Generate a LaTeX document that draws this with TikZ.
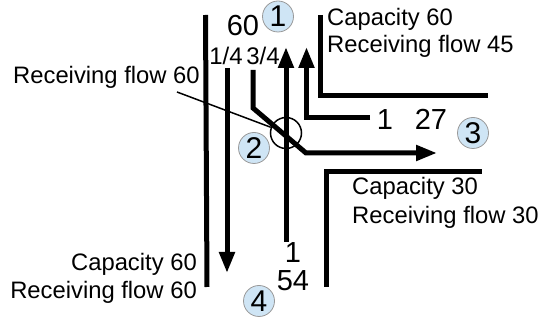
\documentclass[tikz,border=0pt]{standalone}
\usepackage{fontspec}
\setmainfont{Liberation Sans}
\usetikzlibrary{positioning, arrows.meta}
\definecolor{paleblue}{HTML}{CFE5F5}
\tikzset{>={Triangle[length=21pt,width=15pt]}}
\tikzset{
    road/.style = {line width=5pt, line cap=butt, line join=miter},
    flow/.style = {line width=5pt, ->, line join=miter},
    approach/.style = {circle, draw=black!40, fill=paleblue, line width=0.8pt, inner sep=0pt,
                        minimum size=31pt, font=\fontsize{30}{30}\selectfont},
    caption/.style = {align=left, inner sep=0pt, font=\fontsize{23.8}{27}\selectfont},
    number/.style = {inner sep=0pt, font=\fontsize{29}{29}\selectfont},
    share/.style = {inner sep=0pt, font=\fontsize{24}{24}\selectfont}
}

\begin{document}
\begin{tikzpicture}[x=1pt,y=-1pt]
		\useasboundingbox (0,0) rectangle (539,320);
		% roads
		\coordinate (wt) at (205.5,15);
		\coordinate (wb) at (207,287);
		\coordinate (net) at (320.5,15);
		\coordinate (nec) at (320.5,96);
		\coordinate (ner) at (487.5,96);
		\coordinate (seb) at (326.5,287);
		\coordinate (sec) at (326.5,172);
		\coordinate (ser) at (482,172);
		\draw [road] (wt) to (wb);
		\draw [road] (net) -- (nec) -- (ner);
		\draw [road] (seb) -- (sec) -- (ser);
		% flows
		\coordinate (dt) at (227,68);
		\coordinate (db) at (227,273);
		\coordinate (ub) at (286,242);
		\coordinate (ut) at (286,47);
		\coordinate (rs) at (370,118);
		\coordinate (rc) at (306.5,118);
		\coordinate (rt) at (306.5,47);
		\coordinate (ts) at (253,70);
		\coordinate (tc) at (253,108);
		\coordinate (td) at (306,153);
		\coordinate (te) at (437,153);
		\draw [flow] (dt) to (db);
		\draw [flow] (ub) to (ut);
		\draw [flow] (rs) -- (rc) -- (rt);
		\draw [flow] (ts) -- (tc) -- (td) -- (te);
		% measure point
		\node (point) [circle, draw, line width=1.5pt, minimum size=31pt, inner sep=0pt] at (286,133) {};
		\node (recv) [caption, anchor=west] at (13,77) {Receiving flow 60};
		\coordinate (lead) at (177,92);
		\draw [line width=1.5pt] (lead) to (point);
		% approaches
		\node (one) [approach] at (278,16.5) {1};
		\node (two) [approach] at (254,148) {2};
		\node (three) [approach] at (473,133) {3};
		\node (four) [approach] at (259,301) {4};
		% labels
		\node (sixty) [number] at (243,26) {60};
		\node (left) [share] at (226,56) {1/4};
		\node (right) [share] at (263,56) {3/4};
		\node (ne) [caption, anchor=north west] at (327,8) {Capacity 60\\Receiving flow 45};
		\node (oner) [number] at (385,120) {1};
		\node (ts27) [number] at (431,119) {27};
		\node (se) [caption, anchor=north west, font=\fontsize{23.8}{29}\selectfont] at (352,177) {Capacity 30\\Receiving flow 30};
		\node (ones) [number] at (293,253) {1};
		\node (fiftyfour) [number] at (293,281) {54};
		\node (sw) [caption, align=right, anchor=north east, font=\fontsize{23.8}{28}\selectfont] at (197,253) {Capacity 60\\Receiving flow 60};
	\end{tikzpicture}
\end{document}
